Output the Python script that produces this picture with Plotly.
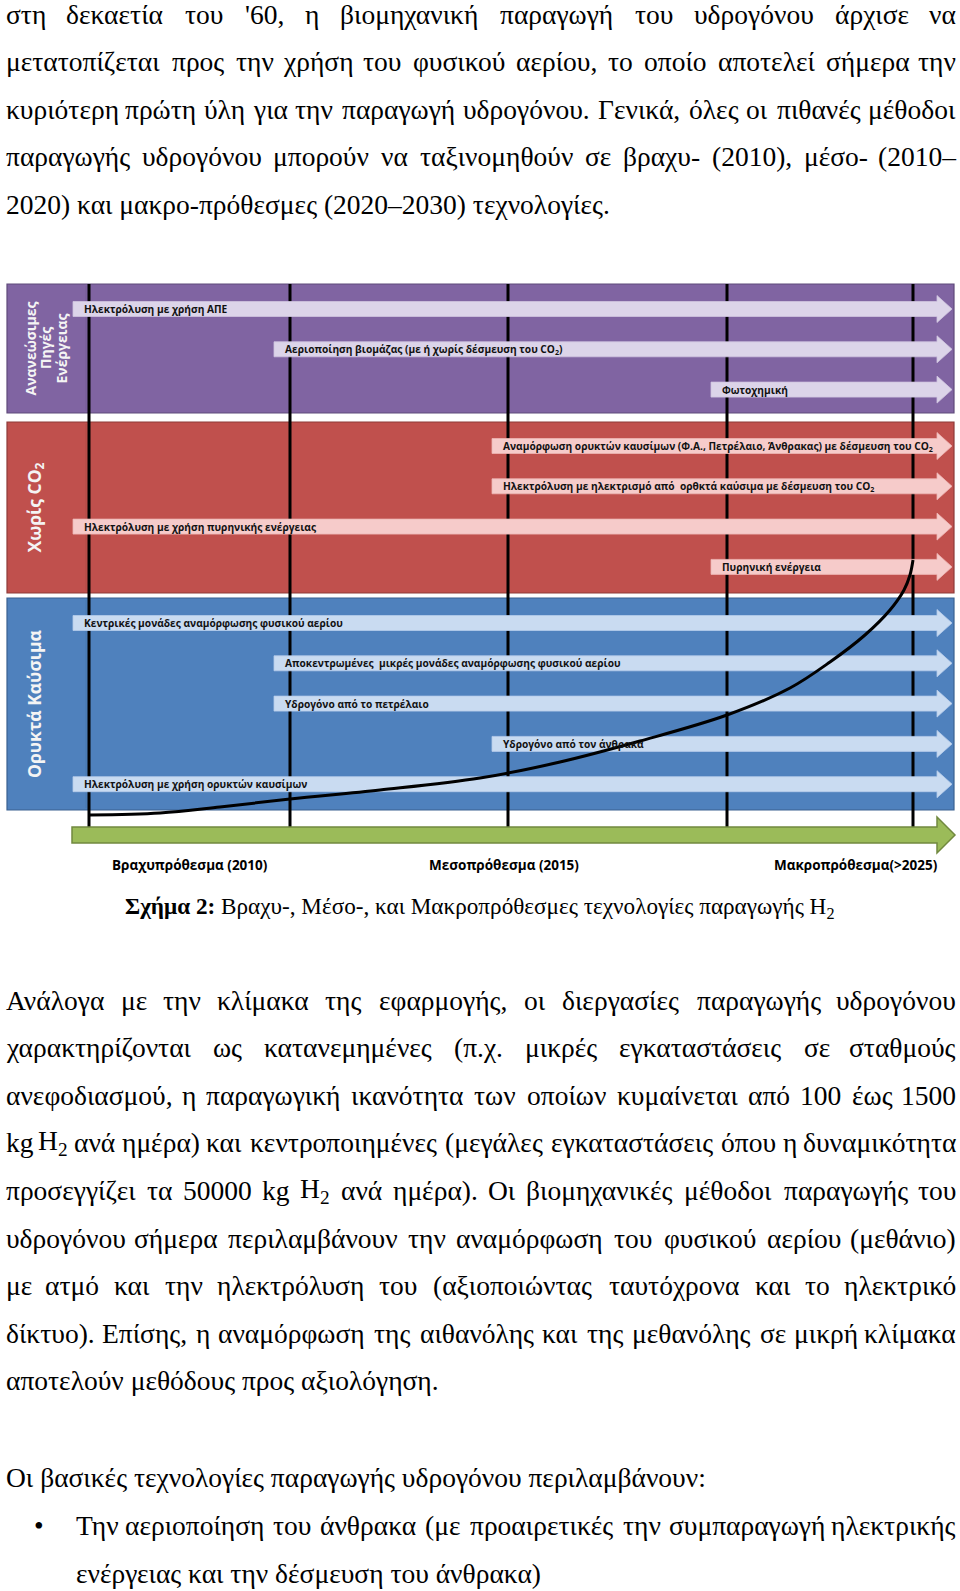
import unicodedata
import plotly.graph_objects as go

# ---------------- DATA ----------------
para1 = [
    "στη δεκαετία του '60, η βιομηχανική παραγωγή του υδρογόνου άρχισε να",
    "μετατοπίζεται προς την χρήση του φυσικού αερίου, το οποίο αποτελεί σήμερα την",
    "κυριότερη πρώτη ύλη για την παραγωγή υδρογόνου. Γενικά, όλες οι πιθανές μέθοδοι",
    "παραγωγής υδρογόνου μπορούν να ταξινομηθούν σε βραχυ- (2010), μέσο- (2010–",
    "2020) και μακρο-πρόθεσμες (2020–2030) τεχνολογίες.",
]
para1_justify = [True, True, True, True, False]

para2 = [
    "Ανάλογα με την κλίμακα της εφαρμογής, οι διεργασίες παραγωγής υδρογόνου",
    "χαρακτηρίζονται ως κατανεμημένες (π.χ. μικρές εγκαταστάσεις σε σταθμούς",
    "ανεφοδιασμού, η παραγωγική ικανότητα των οποίων κυμαίνεται από 100 έως 1500",
    "kg H₂ ανά ημέρα) και κεντροποιημένες (μεγάλες εγκαταστάσεις όπου η δυναμικότητα",
    "προσεγγίζει τα 50000 kg H₂ ανά ημέρα). Οι βιομηχανικές μέθοδοι παραγωγής του",
    "υδρογόνου σήμερα περιλαμβάνουν την αναμόρφωση του φυσικού αερίου (μεθάνιο)",
    "με ατμό και την ηλεκτρόλυση του (αξιοποιώντας ταυτόχρονα και το ηλεκτρικό",
    "δίκτυο). Επίσης, η αναμόρφωση της αιθανόλης και της μεθανόλης σε μικρή κλίμακα",
    "αποτελούν μεθόδους προς αξιολόγηση.",
]
para2_justify = [True] * 8 + [False]

intro_line = "Οι βασικές τεχνολογίες παραγωγής υδρογόνου περιλαμβάνουν:"
bullet_lines = [
    "Την αεριοποίηση του άνθρακα (με προαιρετικές την συμπαραγωγή ηλεκτρικής",
    "ενέργειας και την δέσμευση του άνθρακα)",
]
bullet_justify = [True, False]

caption_bold = "Σχήμα 2:"
caption_rest = "Βραχυ-, Μέσο-, και Μακροπρόθεσμες τεχνολογίες παραγωγής H₂"

band_titles = [["Ανανεώσιμες", "Πηγές", "Ενέργειας"], ["Χωρίς CO₂"], ["Ορυκτά Καύσιμα"]]

tech_labels = [
    "Ηλεκτρόλυση με χρήση ΑΠΕ",
    "Αεριοποίηση βιομάζας (με ή χωρίς δέσμευση του CO₂)",
    "Φωτοχημική",
    "Αναμόρφωση ορυκτών καυσίμων (Φ.Α., Πετρέλαιο, Άνθρακας) με δέσμευση του CO₂",
    "Ηλεκτρόλυση με ηλεκτρισμό από  ορθκτά καύσιμα με δέσμευση του CO₂",
    "Ηλεκτρόλυση με χρήση πυρηνικής ενέργειας",
    "Πυρηνική ενέργεια",
    "Κεντρικές μονάδες αναμόρφωσης φυσικού αερίου",
    "Αποκεντρωμένες  μικρές μονάδες αναμόρφωσης φυσικού αερίου",
    "Υδρογόνο από το πετρέλαιο",
    "Υδρογόνο από τον άνθρακα",
    "Ηλεκτρόλυση με χρήση ορυκτών καυσίμων",
]
tech_band = [0, 0, 0, 1, 1, 1, 1, 2, 2, 2, 2, 2]
tech_start_stage = [0, 1, 3, 2, 2, 0, 3, 0, 1, 1, 2, 0]

period_labels = ["Βραχυπρόθεσμα (2010)", "Μεσοπρόθεσμα (2015)", "Μακροπρόθεσμα(>2025)"]

curve_x = [90, 160, 220, 290, 380, 480, 560, 640, 727, 790, 830, 865, 890, 904, 910, 913]
curve_y = [815, 813, 807, 799, 790, 778, 762, 741, 715, 688, 662, 635, 610, 590, 575, 560]

# ---------------- LAYOUT / STYLE ----------------
W_PX, H_PX = 960, 1591
TEXT_L, TEXT_R = 4, 958
BODY_FS = 27.5
LINE_STEP = 47.6
P1_Y0 = 14
P2_Y0 = 1000
INTRO_Y = 1477
BULLET_Y0 = 1525
BULLET_X, BULLET_TEXT_L = 39, 74
SERIF = "Liberation Serif"
SANS = "Open Sans"

LINE_X = [89, 290, 508, 727, 913]
LINE_TOP, LINE_BOT = 284, 828
BAND_Y = [(284, 413), (422, 593), (598, 810)]
BAND_X = (7, 954)
LABEL_COL_R = 86
ROW_FIRST = [25, 24, 25]
ROW_STEP = 40.3
START_OFFSET = 16
HEAD_X, TIP_X = 937, 952
BODY_H, HEAD_H = 7.5, 13.5
band_fill = ["#8064A2", "#C0504D", "#4F81BD"]
band_edge = ["#5F4A7A", "#8E3B39", "#3A6190"]
col_edge = ["#765C97", "#B24A47", "#4978B0"]
arrow_fill = ["#DCD4E9", "#F6CBCA", "#C9DBF1"]
arrow_edge = ["#CFC4E0", "#EDB5B4", "#B5CCEB"]
title_x = [[30, 45.5, 61], [35], [34]]
title_fs = [14, 17.5, 17.5]

GREEN_X0, GREEN_HEAD, GREEN_TIP = 72, 937, 955
GREEN_Y, GREEN_BODY_H, GREEN_HEAD_H = 835, 8, 18
PERIOD_X = [190, 504, 856]
PERIOD_Y = 865
CAPTION_X, CAPTION_Y = 480, 908

# approximate Times/Liberation Serif advance widths (em)
CW = {' ': .25, "'": .18, ',': .25, '.': .25, '(': .333, ')': .333, '-': .333, '–': .5,
      ':': .278, '>': .564, 'k': .5, 'g': .5, 'H': .722, '₂': .35,
      'α': .53, 'β': .50, 'γ': .45, 'δ': .49, 'ε': .43, 'ζ': .43, 'η': .50, 'θ': .49,
      'ι': .27, 'κ': .50, 'λ': .48, 'μ': .53, 'ν': .45, 'ξ': .44, 'ο': .50, 'π': .53,
      'ρ': .50, 'ς': .42, 'σ': .53, 'τ': .42, 'υ': .48, 'φ': .63, 'χ': .47, 'ψ': .67,
      'ω': .67, 'Α': .72, 'Β': .67, 'Γ': .58, 'Ε': .61, 'Μ': .89, 'Ο': .72, 'Σ': .6, 'Τ': .61}
for d in "0123456789":
    CW[d] = .5


def text_width(s):
    tot = 0.0
    for ch in s:
        base = unicodedata.normalize("NFD", ch)[0]
        tot += CW.get(ch, CW.get(base, .5))
    return tot


def fmt(s):
    return s.replace("₂", "<sub>2</sub>")


annotations = []


def add_text(x, y, text, anchor="left", size=BODY_FS, family=SERIF, color="black", angle=0):
    annotations.append(dict(x=x, y=y, xref="x", yref="y", text=fmt(text), showarrow=False,
                            xanchor=anchor, yanchor="middle", textangle=angle,
                            font=dict(family=family, size=size, color=color)))


def place_line(text, y, x0, x1, justify):
    if not justify:
        add_text(x0, y, text, "left")
        return
    words = text.split(" ")
    ws = [text_width(w) * BODY_FS for w in words]
    gap = (x1 - x0 - sum(ws)) / (len(words) - 1)
    x = x0
    n = len(words)
    for i, (w, wd) in enumerate(zip(words, ws)):
        if i == 0:
            add_text(x0, y, w, "left")
        elif i == n - 1:
            add_text(x1, y, w, "right")
        else:
            add_text(x + wd / 2, y, w, "center")
        x += wd + gap


for i, (ln, j) in enumerate(zip(para1, para1_justify)):
    place_line(ln, P1_Y0 + i * LINE_STEP, TEXT_L, TEXT_R, j)
for i, (ln, j) in enumerate(zip(para2, para2_justify)):
    place_line(ln, P2_Y0 + i * LINE_STEP, TEXT_L, TEXT_R, j)
place_line(intro_line, INTRO_Y, TEXT_L, TEXT_R, False)
add_text(BULLET_X, BULLET_Y0, "•", "center")
for i, (ln, j) in enumerate(zip(bullet_lines, bullet_justify)):
    place_line(ln, BULLET_Y0 + i * LINE_STEP + (1 if i else 0), BULLET_TEXT_L, TEXT_R, j)

# caption
annotations.append(dict(x=CAPTION_X, y=CAPTION_Y, xref="x", yref="y", showarrow=False,
                        xanchor="center", yanchor="middle",
                        text="<b>" + caption_bold + "</b> " + fmt(caption_rest),
                        font=dict(family=SERIF, size=23.2, color="black")))

shapes = []
# bands
for b, (y0, y1) in enumerate(BAND_Y):
    shapes.append(dict(type="rect", xref="x", yref="y", x0=BAND_X[0], x1=BAND_X[1], y0=y0, y1=y1,
                       fillcolor=band_fill[b], line=dict(color=band_edge[b], width=1.2), layer="below"))
    shapes.append(dict(type="line", xref="x", yref="y", x0=LABEL_COL_R, x1=LABEL_COL_R, y0=y0 + 2, y1=y1 - 2,
                       line=dict(color=col_edge[b], width=1), layer="below"))
    yc = (y0 + y1) / 2
    for k, t in enumerate(band_titles[b]):
        annotations.append(dict(x=title_x[b][k], y=yc, xref="x", yref="y", showarrow=False,
                                text="<b>" + fmt(t) + "</b>", textangle=-90,
                                xanchor="center", yanchor="middle",
                                font=dict(family=SANS, size=title_fs[b], color="#F4F4F4")))

# milestone lines
for lx in LINE_X:
    shapes.append(dict(type="line", xref="x", yref="y", x0=lx, x1=lx, y0=LINE_TOP, y1=LINE_BOT,
                       line=dict(color="black", width=3), layer="below"))

# technology arrows
row_in_band = [0, 0, 0]
for lab, b, st in zip(tech_labels, tech_band, tech_start_stage):
    yc = BAND_Y[b][0] + ROW_FIRST[b] + row_in_band[b] * ROW_STEP
    row_in_band[b] += 1
    xs = LINE_X[st] - START_OFFSET
    path = (f"M {xs},{yc - BODY_H} L {HEAD_X},{yc - BODY_H} L {HEAD_X},{yc - HEAD_H} "
            f"L {TIP_X},{yc} L {HEAD_X},{yc + HEAD_H} L {HEAD_X},{yc + BODY_H} L {xs},{yc + BODY_H} Z")
    shapes.append(dict(type="path", xref="x", yref="y", path=path, fillcolor=arrow_fill[b],
                       line=dict(color=arrow_edge[b], width=0.8), layer="below"))
    annotations.append(dict(x=xs + 9, y=yc, xref="x", yref="y", showarrow=False,
                            text="<b>" + fmt(lab) + "</b>", xanchor="left", yanchor="middle",
                            font=dict(family=SANS, size=10.2, color="#111111")))

# green time arrow
gp = (f"M {GREEN_X0},{GREEN_Y - GREEN_BODY_H} L {GREEN_HEAD},{GREEN_Y - GREEN_BODY_H} "
      f"L {GREEN_HEAD},{GREEN_Y - GREEN_HEAD_H} L {GREEN_TIP},{GREEN_Y} L {GREEN_HEAD},{GREEN_Y + GREEN_HEAD_H} "
      f"L {GREEN_HEAD},{GREEN_Y + GREEN_BODY_H} L {GREEN_X0},{GREEN_Y + GREEN_BODY_H} Z")
shapes.append(dict(type="path", xref="x", yref="y", path=gp, fillcolor="#9BBB59",
                   line=dict(color="#71893F", width=1.5), layer="below"))

for px, pl in zip(PERIOD_X, period_labels):
    annotations.append(dict(x=px, y=PERIOD_Y, xref="x", yref="y", showarrow=False,
                            text="<b>" + pl + "</b>", xanchor="center", yanchor="middle",
                            font=dict(family=SANS, size=13.5, color="black")))

fig = go.Figure()
fig.add_trace(go.Scatter(x=curve_x, y=curve_y, mode="lines", hoverinfo="skip",
                         line=dict(color="black", width=3, shape="spline", smoothing=1.0),
                         showlegend=False))

fig.update_layout(
    width=W_PX, height=H_PX, autosize=False,
    margin=dict(l=0, r=0, t=0, b=0),
    paper_bgcolor="white", plot_bgcolor="white",
    xaxis=dict(range=[0, W_PX], visible=False, fixedrange=True),
    yaxis=dict(range=[H_PX, 0], visible=False, fixedrange=True),
    shapes=shapes, annotations=annotations, showlegend=False,
)

fig.write_html("out.html", config={"displayModeBar": False},
               post_script="document.body.style.margin='0';document.body.style.overflow='hidden';")
